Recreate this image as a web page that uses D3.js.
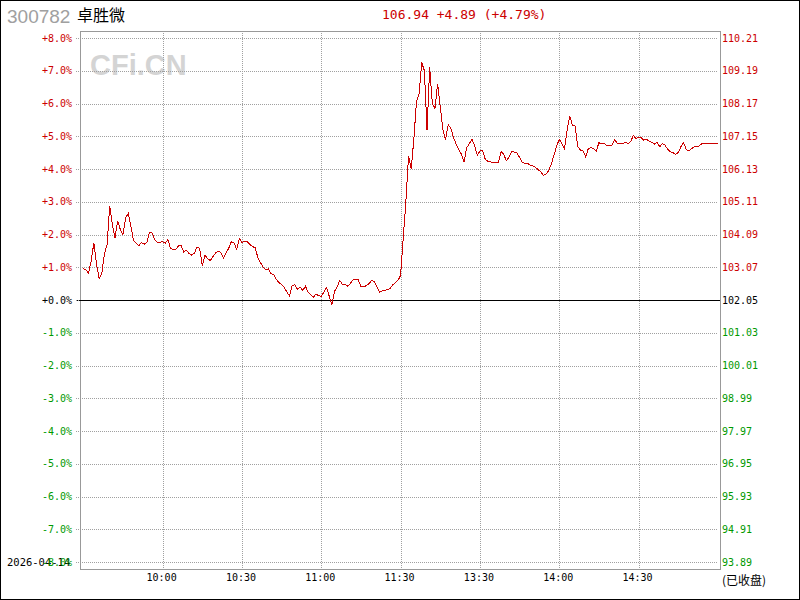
<!DOCTYPE html>
<html>
<head>
<meta charset="utf-8">
<script src="https://cdn.jsdelivr.net/npm/d3@7"></script>
<style>
  body { margin: 0; background: #fff; }
  svg { display: block; }
</style>
</head>
<body>
<svg id="chart" width="800" height="600"></svg>
<script>
// header
let stockCode = '300782';
let stockName = '卓胜微';
let quoteText = '106.94 +4.89 (+4.79%)';
let tradeDate = '2026-04-14';
let closedText = '(已收盘)';

// percent ticks on the left, price ticks on the right
let pctTicks = [8, 7, 6, 5, 4, 3, 2, 1, 0, -1, -2, -3, -4, -5, -6, -7, -8];
let priceTicks = ['110.21', '109.19', '108.17', '107.15', '106.13', '105.11', '104.09', '103.07',
  '102.05', '101.03', '100.01', '98.99', '97.97', '96.95', '95.93', '94.91', '93.89'];

// time axis (minute index from 9:30, 241 minutes)
let timeLabels = ['10:00', '10:30', '11:00', '11:30', '13:30', '14:00', '14:30'];
let timeIndex = [30, 60, 90, 120, 150, 180, 210];

// change vs previous close (%), one value per minute
let morningPct = [
  0.95, 0.92, 0.82, 1.2, 1.75, 1.1, 0.65, 0.82, 1.4, 1.7,
  2.88, 2.3, 1.9, 2.42, 2.15, 2.0, 2.5, 2.65, 2.25, 1.82,
  1.73, 1.65, 1.76, 1.7, 1.75, 2.06, 2.05, 1.85, 1.76, 1.76,
  1.78, 1.73, 1.85, 1.57, 1.55, 1.55, 1.65, 1.66, 1.47, 1.52,
  1.42, 1.37, 1.43, 1.62, 1.58, 1.05, 1.36, 1.27, 1.2, 1.32,
  1.43, 1.5, 1.45, 1.28, 1.45, 1.58, 1.78, 1.75, 1.55, 1.88,
  1.75, 1.8, 1.78, 1.7, 1.63, 1.6, 1.3, 1.14, 1.0, 0.92,
  0.95, 0.8, 0.77, 0.63, 0.53, 0.48, 0.38, 0.24, 0.12, 0.45,
  0.46, 0.33, 0.4, 0.29, 0.42, 0.25, 0.17, 0.08, 0.18, 0.13,
  0.11, 0.25, 0.38, 0.12, -0.14, 0.26, 0.4, 0.6, 0.48, 0.48,
  0.42, 0.5, 0.62, 0.62, 0.62, 0.4, 0.42, 0.43, 0.5, 0.59,
  0.57, 0.4, 0.24, 0.28, 0.3, 0.31, 0.35, 0.46, 0.53, 0.6,
  0.75
];
let afternoonPct = [
  1.9, 3.0, 4.4, 4.0, 4.9, 6.05, 6.3, 7.25, 7.0, 5.18,
  7.1, 6.0, 5.85, 6.6, 5.9, 5.2, 4.9, 5.35, 5.25, 4.97,
  4.76, 4.6, 4.45, 4.22, 4.65, 4.77, 4.92, 4.7, 4.42, 4.55,
  4.57, 4.3, 4.24, 4.22, 4.19, 4.19, 4.19, 4.53, 4.45, 4.25,
  4.37, 4.52, 4.52, 4.5, 4.35, 4.2, 4.17, 4.17, 4.12, 4.09,
  4.05, 3.98, 3.92, 3.8, 3.85, 3.95, 4.15, 4.42, 4.7, 4.9,
  4.78, 4.62, 5.2, 5.62, 5.33, 5.31, 4.68, 4.58, 4.55, 4.37,
  4.63, 4.65, 4.63, 4.55, 4.8, 4.77, 4.78, 4.7, 4.72, 4.73,
  4.9, 4.77, 4.78, 4.78, 4.81, 4.78, 4.83, 5.03, 4.93, 4.96,
  4.95, 4.88, 4.91, 4.85, 4.81, 4.76, 4.82, 4.68, 4.78, 4.73,
  4.6, 4.53, 4.5, 4.45, 4.5, 4.68, 4.81, 4.6, 4.55, 4.62,
  4.68, 4.68, 4.71, 4.78, 4.79, 4.79, 4.79, 4.79, 4.79, 4.79
];

let pct = morningPct.concat(afternoonPct);

let RED = '#cc0000';
let GREEN = '#009900';
let GRID = '#a0a0a0';
let MONO = '"DejaVu Sans Mono", "Liberation Mono", monospace';

let svg = d3.select('svg#chart');

let frame = {left: 80, right: 720, top: 31, bottom: 569};

let sx = d3.scaleLinear().domain([0, 240]).range([83.3, 717.9]);
let sy = d3.scaleLinear().domain([-8, 8]).range([562, 38]);

let px = function(v) { return Math.round(v) + 0.5; };
let tickColor = function(v) { return v > 0 ? RED : (v < 0 ? GREEN : '#000'); };

// outer border
svg.append('rect')
  .attr('x', 0.5).attr('y', 0.5)
  .attr('width', 799).attr('height', 599)
  .attr('fill', '#fff')
  .attr('stroke', '#000');

// watermark
svg.append('text')
  .attr('x', 90).attr('y', 75)
  .attr('font-family', 'Liberation Sans, Arial, sans-serif')
  .attr('font-weight', 'bold')
  .attr('font-size', 29)
  .attr('fill', '#d4d4d4')
  .text('CFi.CN');

// horizontal grid
svg.append('g').selectAll('line')
  .data(pctTicks.filter(d => d !== 0))
  .join('line')
  .attr('x1', 76).attr('x2', frame.right - 2)
  .attr('y1', d => px(sy(d))).attr('y2', d => px(sy(d)))
  .attr('stroke', GRID)
  .attr('stroke-dasharray', '1,1')
  .attr('shape-rendering', 'crispEdges');

// vertical grid
svg.append('g').selectAll('line')
  .data(timeIndex)
  .join('line')
  .attr('x1', d => px(sx(d))).attr('x2', d => px(sx(d)))
  .attr('y1', frame.top).attr('y2', frame.bottom)
  .attr('stroke', GRID)
  .attr('stroke-dasharray', '1,1')
  .attr('shape-rendering', 'crispEdges');

// frame
svg.append('rect')
  .attr('x', frame.left + 0.5).attr('y', frame.top + 0.5)
  .attr('width', frame.right - frame.left).attr('height', frame.bottom - frame.top)
  .attr('fill', 'none')
  .attr('stroke', '#999')
  .attr('shape-rendering', 'crispEdges');

// zero line (previous close)
svg.append('line')
  .attr('x1', 76).attr('x2', frame.right)
  .attr('y1', px(sy(0))).attr('y2', px(sy(0)))
  .attr('stroke', '#000')
  .attr('shape-rendering', 'crispEdges');
svg.append('line')
  .attr('x1', 76).attr('x2', frame.left)
  .attr('y1', px(sy(0))).attr('y2', px(sy(0)))
  .attr('stroke', GRID)
  .attr('stroke-dasharray', '1,1')
  .attr('shape-rendering', 'crispEdges');

// date label (sits under the -8% label, as in the original)
svg.append('text')
  .attr('x', 7).attr('y', sy(-8))
  .attr('dy', '0.35em')
  .attr('font-family', MONO).attr('font-size', 10.5)
  .attr('fill', '#000')
  .text(tradeDate);

// left percent labels
svg.append('g').selectAll('text')
  .data(pctTicks)
  .join('text')
  .attr('x', 72).attr('y', d => sy(d))
  .attr('dy', '0.35em')
  .attr('text-anchor', 'end')
  .attr('font-family', MONO).attr('font-size', 10)
  .attr('fill', d => tickColor(d))
  .text(d => (d >= 0 ? '+' : '') + d.toFixed(1) + '%');

// right price labels
svg.append('g').selectAll('text')
  .data(priceTicks)
  .join('text')
  .attr('x', 722).attr('y', (d, i) => sy(pctTicks[i]))
  .attr('dy', '0.35em')
  .attr('font-family', MONO).attr('font-size', 10)
  .attr('fill', (d, i) => tickColor(pctTicks[i]))
  .text(d => d);

// time labels
svg.append('g').selectAll('text')
  .data(timeLabels)
  .join('text')
  .attr('x', (d, i) => sx(timeIndex[i]) - 1).attr('y', 577)
  .attr('dy', '0.35em')
  .attr('text-anchor', 'middle')
  .attr('font-family', MONO).attr('font-size', 10)
  .attr('fill', '#000')
  .text(d => d);

svg.append('text')
  .attr('x', 722).attr('y', 585)
  .attr('font-family', '"Noto Sans CJK SC", sans-serif').attr('font-size', 12)
  .attr('fill', '#000')
  .text(closedText);

// header
svg.append('text')
  .attr('x', 7).attr('y', 23)
  .attr('font-family', 'Liberation Sans, Arial, sans-serif').attr('font-size', 19)
  .attr('fill', '#a0a0a0')
  .text(stockCode);
svg.append('text')
  .attr('x', 77).attr('y', 21)
  .attr('font-family', '"Noto Sans CJK SC", sans-serif').attr('font-size', 16)
  .attr('fill', '#000')
  .text(stockName);
svg.append('text')
  .attr('x', 382).attr('y', 18.5)
  .attr('font-family', MONO).attr('font-size', 13)
  .attr('fill', RED)
  .text(quoteText);

// price line
let line = d3.line()
  .x((d, i) => sx(i))
  .y(d => sy(d));

svg.append('path')
  .datum(pct)
  .attr('d', line)
  .attr('fill', 'none')
  .attr('stroke', RED)
  .attr('stroke-width', 1)
  .attr('shape-rendering', 'crispEdges');
</script>
</body>
</html>
